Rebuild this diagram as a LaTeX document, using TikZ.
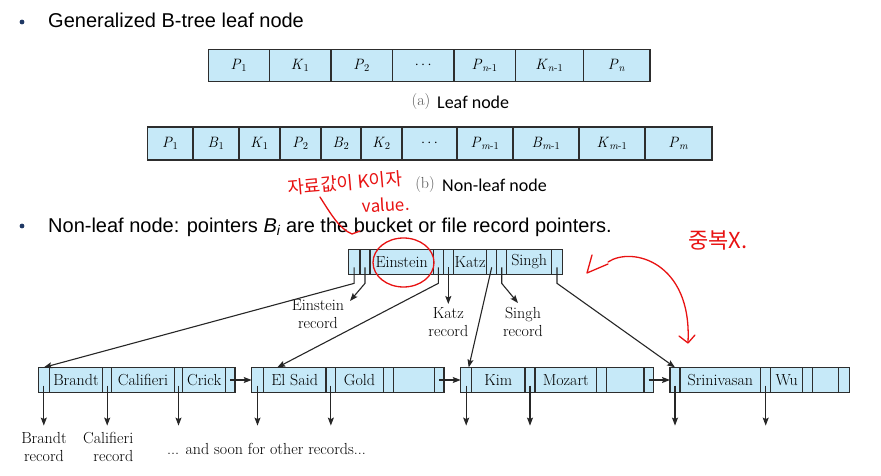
\documentclass[tikz,border=0pt]{standalone}
\usepackage{fontspec}
\usetikzlibrary{arrows.meta,calc}
\newfontfamily\arialf{Liberation Sans}
\newfontfamily\calibf{Carlito}
\newfontfamily\krf{Noto Sans CJK KR}
\definecolor{cellblue}{RGB}{198,233,248}
\definecolor{edgecol}{RGB}{45,45,45}
\definecolor{bulletblue}{RGB}{31,56,100}
\definecolor{pen}{RGB}{232,18,18}
\definecolor{capgray}{RGB}{85,85,85}
\newcommand\ip[2]{\textit{#1}\textsubscript{#2}}
\begin{document}
\begin{tikzpicture}[x=1pt,y=-1pt,
  cellbox/.style={draw=edgecol, fill=cellblue, line width=1.1pt, inner sep=0pt, outer sep=0pt, minimum height=#1},
  tabtxt/.style={font=\fontsize{15}{17}\selectfont, text=black},
  keytxt/.style={font=\fontsize{16}{18}\selectfont, text=black},
  lbl/.style={font=\fontsize{16}{18}\selectfont, text=black, inner sep=0pt, align=center},
  bullettxt/.style={font=\arialf\fontsize{20}{24}\selectfont, anchor=base west, inner sep=0pt},
  ptr/.style={draw=black!85, line width=1.1pt, -{Stealth[length=8pt,width=6pt,inset=1.5pt]}},
  penline/.style={draw=pen, line width=1.3pt, line cap=round, line join=round},
  pentxt/.style={text=pen, inner sep=0pt}
]
\useasboundingbox (0,0) rectangle (881,476);

% bullets
\fill[bulletblue] (22,22) circle (2.4pt);
\node[bullettxt] (b1) at (48,28) {Generalized B-tree leaf node};
\fill[bulletblue] (22,226) circle (2.4pt);
\node[bullettxt] (b2) at (48,232) {Non-leaf node: pointers {\itshape B\textsubscript{i}} are the bucket or file record pointers.};

% table (a)
\foreach \a/\b/\t [count=\i] in {208.3/269.3/{\ip{P}{1}}, 269.3/331/{\ip{K}{1}}, 331/392.3/{\ip{P}{2}}, 392.3/454/{$\cdots$}, 454/515.3/{\ip{P}{\textit{n}-1}}, 515.3/583.3/{\ip{K}{\textit{n}-1}}, 583.3/650/{\ip{P}{\textit{n}}}}{
  \node[cellbox=32pt, minimum width={\b-\a}, tabtxt] (ta\i) at ({(\a+\b)/2},65.5) {\t};
}
\node[font=\fontsize{16}{18}\selectfont, text=capgray, inner sep=0pt] (capa1) at (421,102) {(a)};
\node[font=\calibf\fontsize{18}{20}\selectfont, anchor=west, inner sep=0pt] (capa2) at (437,102) {Leaf node};

% table (b)
\foreach \a/\b/\t [count=\i] in {147.5/193/{\ip{P}{1}}, 193/239/{\ip{B}{1}}, 239/280/{\ip{K}{1}}, 280/321/{\ip{P}{2}}, 321/361/{\ip{B}{2}}, 361/402/{\ip{K}{2}}, 402/457/{$\cdots$}, 457/513/{\ip{P}{\textit{m}-1}}, 513/579/{\ip{B}{\textit{m}-1}}, 579/645/{\ip{K}{\textit{m}-1}}, 645/712/{\ip{P}{\textit{m}}}}{
  \node[cellbox=33pt, minimum width={\b-\a}, tabtxt] (tb\i) at ({(\a+\b)/2},143.5) {\t};
}
\node[font=\fontsize{16}{18}\selectfont, text=capgray, inner sep=0pt] (capb1) at (425,185) {(b)};
\node[font=\calibf\fontsize{18}{20}\selectfont, anchor=west, inner sep=0pt] (capb2) at (442,185) {Non-leaf node};

% root node
\foreach \a/\b/\t [count=\i] in {348.3/360/{}, 360/370/{}, 370/433.3/Einstein, 433.3/443.3/{}, 443.3/453.3/{}, 453.3/486.7/Katz, 486.7/496.7/{}, 496.7/506.7/{}, 506.7/551.7/Singh, 551.7/562.3/{}}{
  \node[cellbox=25.3pt, minimum width={\b-\a}, keytxt] (r\i) at ({(\a+\b)/2},261.7) {\t};
}

% leaves
\foreach \a/\b/\t [count=\i] in {38.3/49.3/{}, 49.3/102.7/Brandt, 102.7/111.7/{}, 111.7/174.3/Califieri, 174.3/182.7/{}, 182.7/225.7/Crick, 225.7/235/{}}{
  \node[cellbox=25.2pt, minimum width={\b-\a}, keytxt] (la\i) at ({(\a+\b)/2},380) {\t};
}
\foreach \a/\b/\t [count=\i] in {251.7/263.3/{}, 263.3/326/{El Said}, 326/335.7/{}, 335.7/383.3/Gold, 383.3/393.3/{}, 393.3/434.3/{}, 434.3/444/{}}{
  \node[cellbox=25.2pt, minimum width={\b-\a}, keytxt] (lb\i) at ({(\a+\b)/2},380) {\t};
}
\foreach \a/\b/\t [count=\i] in {460.7/471.7/{}, 471.7/525/Kim, 525/535/{}, 535/596.7/Mozart, 596.7/606.7/{}, 606.7/644/{}, 644/653.3/{}}{
  \node[cellbox=25.2pt, minimum width={\b-\a}, keytxt] (lc\i) at ({(\a+\b)/2},380) {\t};
}
\foreach \a/\b/\t [count=\i] in {670/680/{}, 680/760.7/Srinivasan, 760.7/770.7/{}, 770.7/802.7/Wu, 802.7/812.7/{}, 812.7/838.3/{}, 838.3/849.3/{}}{
  \node[cellbox=25.2pt, minimum width={\b-\a}, keytxt] (ld\i) at ({(\a+\b)/2},380) {\t};
}

% labels
\node[lbl] (einrec) at (318,314.5) {Einstein\\record};
\node[lbl] (katzrec) at (448.3,322) {Katz\\record};
\node[lbl] (singhrec) at (523,322) {Singh\\record};
\node[lbl] (brandtrec) at (44,447) {Brandt\\record};
\node[lbl, align=right, anchor=east] (califrec) at (133.5,447) {Califieri\\record};
\node[lbl] (others) at (266.5,449) {... and soon for other records...};

\coordinate (einp) at (350,301);
\coordinate (katzp) at (448.3,304);
\coordinate (singhp) at (518,303);

% root pointers
\draw[ptr] ($(r1.south)+(0,-7)$) -- ($(r1.south)+(0,9)$) -- (la1.north);
\draw[ptr] ($(r2.south)+(0,-7)$) -- ($(r2.south)+(0,9)$) -- (einp);
\draw[ptr] ($(r4.south)+(0,-7)$) -- ($(r4.south)+(0,9)$) -- ($(lb2.north west)+(14,0)$);
\draw[ptr] ($(r5.south)+(0,-7)$) -- (katzp);
\draw[ptr] ($(r7.south)+(0,-7)$) -- ($(lc1.north east)+(-3,0)$);
\draw[ptr] ($(r8.south)+(0,-7)$) -- ($(r8.south)+(0,9)$) -- (singhp);
\draw[ptr] ($(r10.south)+(0,-7)$) -- ($(r10.south)+(0,9)$) -- (ld1.north);

% leaf chain
\draw[ptr] (la7.center) -- (lb1.west);
\draw[ptr] (lb7.center) -- (lc1.west);
\draw[ptr] (lc7.center) -- (ld1.west);

% record pointers
\foreach \n in {la1,la3,la5,lb1,lb3,lc1,lc3,ld1,ld3}{
  \draw[ptr] ($(\n.south)+(0,-7)$) -- ($(\n.south)+(0,33)$);
}

% red annotations
\node[pentxt, font=\krf\fontsize{18}{20}\selectfont, rotate=5] (kr1) at (345,183) {자료값이 K이자};
\node[pentxt, font=\krf\fontsize{17}{19}\selectfont, rotate=3] (kr2) at (386,205) {value.};
\node[pentxt, font=\krf\fontsize{22}{24}\selectfont] (kr3) at (718,240) {중복X.};
\draw[penline] (320,197) .. controls (332,216) and (340,229) .. (352,234) -- (360,231);
\draw[penline] (403.5,262.5) ellipse (30.5pt and 24.5pt);
\draw[penline] (608,262) .. controls (632,246) and (692,262) .. (688,342);
\draw[penline] (592,255) -- (587,273) -- (608,264);
\draw[penline] (679,336) -- (688,343) -- (695,335);
\end{tikzpicture}
\end{document}
